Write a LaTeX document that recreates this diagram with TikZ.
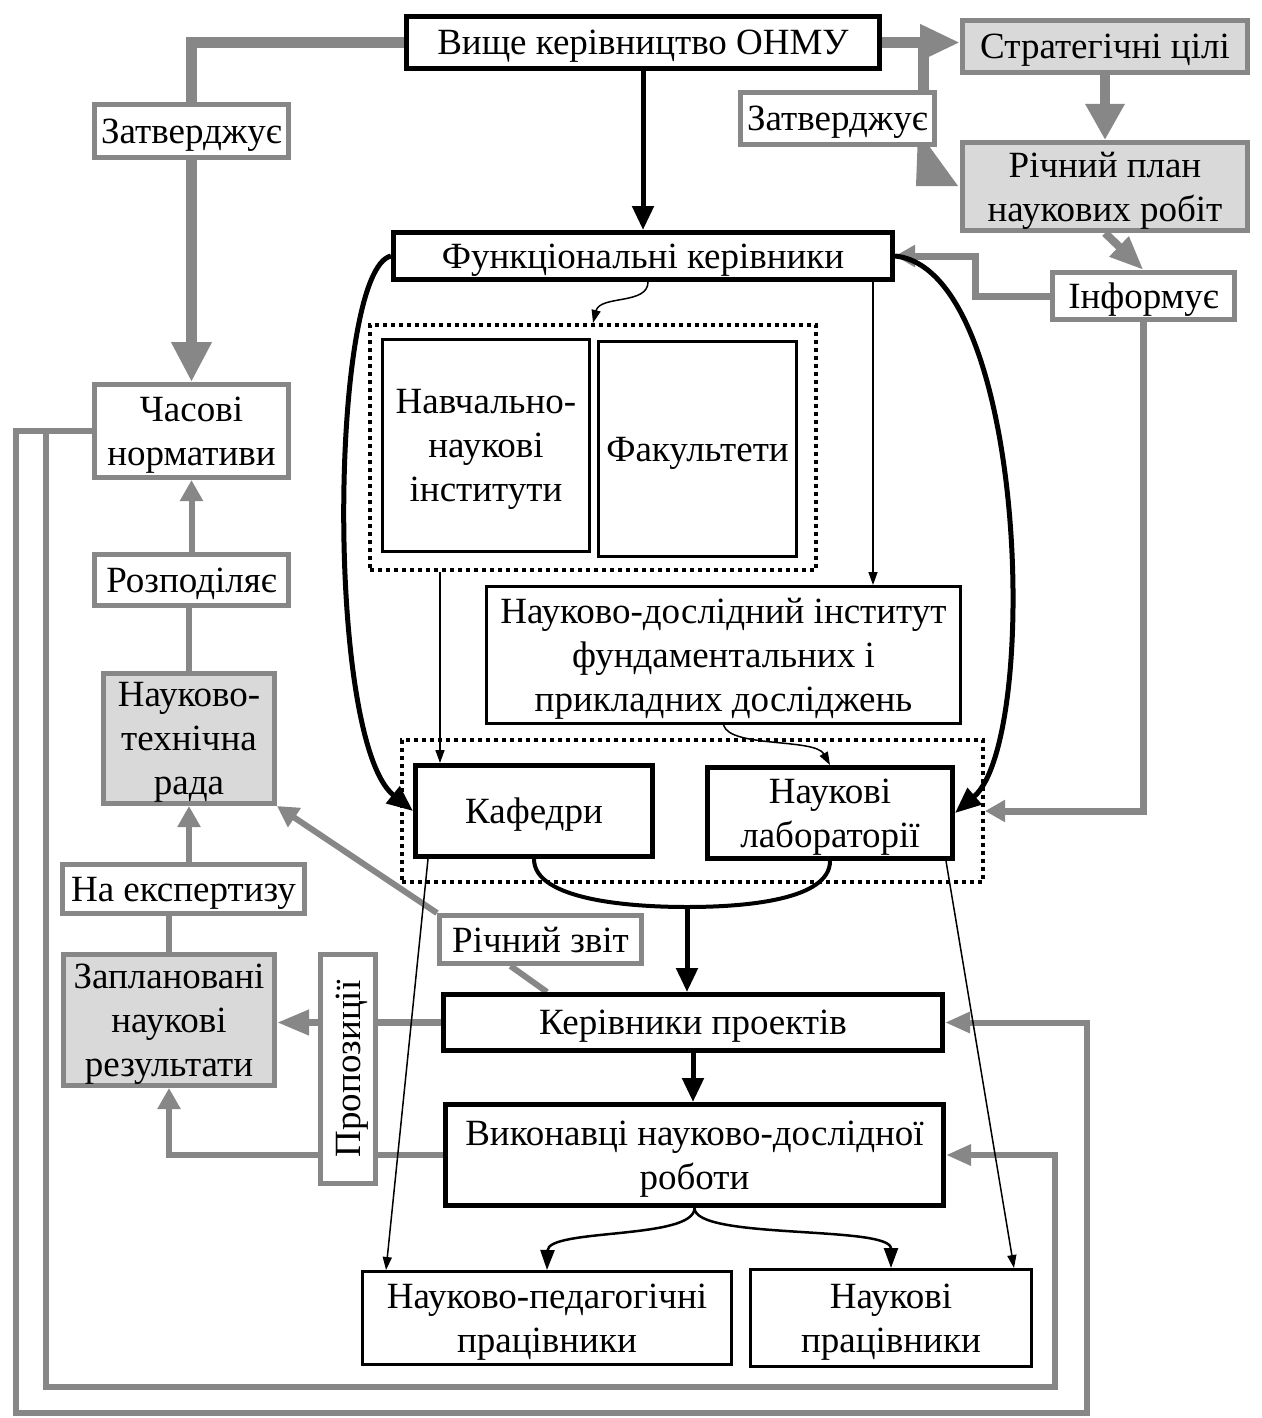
\documentclass[tikz,border=0pt]{standalone}
\usepackage{fontspec}
\setmainfont{Liberation Serif}
\usetikzlibrary{arrows.meta}
\definecolor{gline}{HTML}{878787}
\definecolor{gfill}{HTML}{D9D9D9}
\pgfdeclarelayer{bg}
\pgfdeclarelayer{canvas}
\pgfsetlayers{canvas,bg,main}
\tikzset{
  basebox/.style={inner sep=0pt, align=center, text depth=0pt, font=\fontsize{37}{44}\selectfont},
  bb/.style={basebox, draw=black, line width=5pt, fill=white},
  mb/.style={basebox, draw=black, line width=3pt, fill=white},
  gb/.style={basebox, draw=gline, line width=5pt, fill=white},
  gf/.style={gb, fill=gfill},
  dotbox/.style={draw=black, line width=4pt, dash pattern=on 4pt off 4pt, inner sep=0pt},
  gthickA/.style={draw=gline, line width=11pt, -{Triangle[length=40pt,width=38pt]}},
  gthickB/.style={draw=gline, line width=11pt, -{Triangle[length=40pt,width=34pt]}},
  gthickC/.style={draw=gline, line width=10pt, -{Triangle[length=36pt,width=37pt]}},
  gmid/.style={draw=gline, line width=7pt, -{Triangle[length=20pt,width=21pt]}},
  gloop/.style={draw=gline, line width=6pt, -{Triangle[length=25pt,width=20pt]}},
  gthin/.style={draw=gline, line width=6pt},
  garr/.style={gthin, -{Triangle[length=21pt,width=22pt]}},
  gprop/.style={draw=gline, line width=7pt, -{Triangle[length=32pt,width=24pt]}},
  barr/.style={draw=black, line width=5pt, -{Triangle[length=24pt,width=21pt]}},
  bcurve/.style={draw=black, line width=5pt, -{Triangle[length=26pt,width=21pt]}},
  tcurve/.style={draw=black, line width=2.5pt, -{Triangle[length=20pt,width=14pt]}},
  tarr/.style={draw=black, line width=1.5pt, -{Triangle[length=13pt,width=9pt]}},
}
\begin{document}
\begin{tikzpicture}[x=1pt,y=-1pt]
\useasboundingbox (0,0) rectangle (1261,1418);
\begin{pgfonlayer}{canvas}
\fill[white] (0,0) rectangle (1261,1418);
\end{pgfonlayer}

% top
\node[bb, minimum width=473, minimum height=52] (vy) at (643,42.5) {Вище керівництво ОНМУ};
\node[gf, minimum width=285, minimum height=52] (strat) at (1105,46.5) {Стратегічні цілі};
\node[gb, minimum width=194, minimum height=52] (zr) at (837.5,118.5) {Затверджує};
\node[gf, minimum width=285, minimum height=88] (rp) at (1105,186.5) {Річний план\\наукових робіт};
\node[bb, minimum width=499, minimum height=47] (fk) at (643,256) {Функціональні керівники};
\node[gb, minimum width=182, minimum height=47] (inf) at (1143.5,296) {Інформує};

% left column
\node[gb, minimum width=194, minimum height=53] (zl) at (191.5,131) {Затверджує};
\node[gb, minimum width=194, minimum height=93] (chas) at (191.5,431) {Часові\\нормативи};
\node[gb, minimum width=194, minimum height=51] (rozp) at (191.5,580) {Розподіляє};
\node[gf, minimum width=171, minimum height=130] (ntr) at (189,738.5) {Науково-\\технічна\\рада};
\node[gb, minimum width=242, minimum height=49] (nae) at (183.5,889) {На експертизу};
\node[gf, minimum width=211, minimum height=131] (zap) at (169,1020) {Заплановані\\наукові\\результати};
\node[gb, minimum width=229, minimum height=55, rotate=90] (prop) at (348,1069) {Пропозиції};
\node[gb, minimum width=202, minimum height=48] (rz) at (540.5,939.5) {Річний звіт};

% middle
\node[dotbox, minimum width=446, minimum height=245] (d1) at (593,447.5) {};
\node[mb, minimum width=207, minimum height=212] (nni) at (486,445.5) {Навчально-\\наукові\\інститути};
\node[mb, minimum width=198, minimum height=215] (fak) at (697.5,449) {Факультети};
\node[mb, minimum width=474, minimum height=137] (ndi) at (723.5,655) {Науково-дослідний інститут\\фундаментальних і\\прикладних досліджень};
\node[dotbox, minimum width=581, minimum height=142] (d2) at (692.5,811) {};
\node[bb, minimum width=237, minimum height=91] (kaf) at (534,811) {Кафедри};
\node[bb, minimum width=245, minimum height=91] (lab) at (830,813) {Наукові\\лабораторії};
\node[bb, minimum width=499, minimum height=56] (kp) at (693,1022.5) {Керівники проектів};
\node[bb, minimum width=498, minimum height=101] (vk) at (694.5,1155) {Виконавці науково-дослідної\\роботи};
\node[mb, minimum width=369, minimum height=93] (npp) at (547,1318) {Науково-педагогічні\\працівники};
\node[mb, minimum width=281, minimum height=97] (np) at (891,1318) {Наукові\\працівники};

\begin{pgfonlayer}{bg}
% grey connectors
\draw[gthickA] (vy.west) -| (chas.north);
\draw[gthickB] (vy.east) -- (vy.east -| strat.west);
\coordinate (zb) at (923,42.5);
\draw[draw=gline, line width=11pt] (zb) -- (zb |- zr.south);
\fill[gline] (917.5,146) -- (929,146) -- (958,186) -- (916,186) -- cycle;
\draw[gthickC] (strat.south) -- (rp.north);
\draw[draw=gline, line width=8pt, -{Triangle[length=34pt,width=26pt]}] (rp.south) -- (inf.north);
\coordinate (ic) at (975,296);
\draw[gmid] (inf.west) -- (ic) |- (fk.east);
\draw[gmid] (inf.south) |- (d2.east);
\coordinate (o1) at (16,1413);
\coordinate (o2) at (1087,1413);
\draw[gloop] (chas.west) -| (o1) -- (o2) |- (kp.east);
\coordinate (i1) at (46,1387);
\coordinate (i2) at (1055,1387);
\draw[gloop] (chas.west) -| (i1) -- (i2) |- (vk.east);
\draw[gthin] (ntr.north) -- (ntr.north |- rozp.south);
\draw[garr] (rozp.north) -- (chas.south);
\draw[gthin] (zap.north) -- (zap.north |- nae.south);
\draw[garr] (ntr.south |- nae.north) -- (ntr.south);
\draw[gthin] ([xshift=-146pt]kp.north) -- ([xshift=-30pt]rz.south);
\draw[garr] (rz.north west) -- (ntr.south east);
\draw[gprop] (kp.west) -- (kp.west -| zap.east);
\draw[garr] (vk.west) -| (zap.south);

% black connectors
\draw[barr] (vy.south) -- (vy.south |- fk.north);
\draw[bcurve] (fk.west) .. controls (330,270) and (325,740) .. (kaf.west);
\draw[bcurve] (fk.east) .. controls (1028,270) and (1040,740) .. (lab.east);
\draw[tarr] ([xshift=5pt]fk.south) .. controls (648,305) and (600,295) .. (d1.north);
\draw[tarr] ([xshift=230pt]fk.south) -- ([xshift=230pt]fk.south |- ndi.north);
\draw[tarr] ([xshift=-153pt]d1.south) -- ([xshift=-153pt]d1.south |- kaf.north);
\draw[tarr] (ndi.south) .. controls (730,748) and (815,738) .. (lab.north);
\coordinate (br) at (687,907);
\draw[black, line width=4pt] (kaf.south) .. controls (534,900) and (630,907) .. (br);
\draw[black, line width=4pt] (lab.south) .. controls (830,900) and (745,907) .. (br);
\draw[barr] (br) -- (br |- kp.north);
\draw[barr] (kp.south) -- (kp.south |- vk.north);
\draw[tcurve] (vk.south) .. controls (694.5,1240) and (548,1228) .. (npp.north);
\draw[tcurve] (vk.south) .. controls (694.5,1240) and (891,1225) .. (np.north);
\draw[tarr] ([xshift=-106pt]kaf.south) -- ([xshift=-161pt]npp.north);
\draw[tarr] ([xshift=116pt]lab.south) -- ([xshift=123pt]np.north);
\end{pgfonlayer}
\end{tikzpicture}
\end{document}
